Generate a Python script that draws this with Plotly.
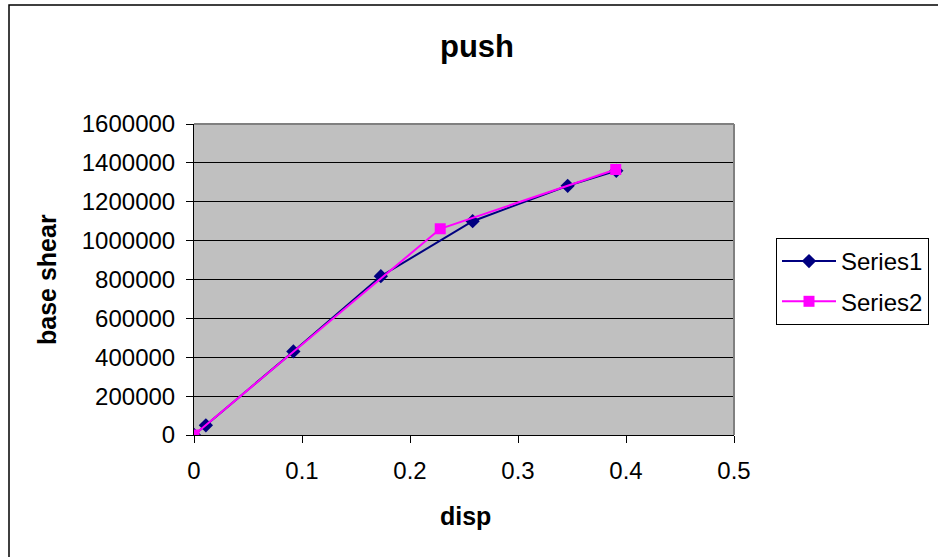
import plotly.graph_objects as go

# Pushover curve: displacement vs base shear
disp_s1 = [0.0, 0.011, 0.092, 0.173, 0.258, 0.346, 0.391]
shear_s1 = [0, 50000, 430000, 817000, 1100000, 1282000, 1359000]

disp_s2 = [0.0, 0.228, 0.3905]
shear_s2 = [0, 1061000, 1366000]

x_ticks = [0, 0.1, 0.2, 0.3, 0.4, 0.5]
y_ticks = [0, 200000, 400000, 600000, 800000, 1000000, 1200000, 1400000, 1600000]

FONT = "Liberation Sans, Arial, sans-serif"
W, H = 938, 557
L, R, T, B = 194, 204, 124, 122
PW, PH = W - L - R, H - T - B


def px_x(p):
    return (p - L) / PW


def px_y(p):
    return (H - B - p) / PH


fig = go.Figure()
fig.add_trace(go.Scatter(
    x=disp_s1, y=shear_s1, name="Series1", mode="lines+markers",
    line=dict(color="#000080", width=2),
    marker=dict(symbol="diamond", size=11, color="#000080"),
    legendgroup="s1",
))
fig.add_trace(go.Scatter(
    x=disp_s2, y=shear_s2, name="Series2", mode="lines+markers",
    line=dict(color="#FF00FF", width=2),
    marker=dict(symbol="square", size=11, color="#FF00FF"),
    legendgroup="s2",
))

fig.update_layout(
    width=W, height=H,
    margin=dict(l=L, r=R, t=T, b=B, pad=0, autoexpand=False),
    paper_bgcolor="white",
    plot_bgcolor="#C0C0C0",
    font=dict(family=FONT, size=24, color="black"),
    showlegend=True,
    legend=dict(
        xref="container", yref="container",
        x=776 / W, y=1 - 238 / H, xanchor="left", yanchor="top",
        bordercolor="black", borderwidth=1, bgcolor="white",
        font=dict(family=FONT, size=24, color="black"),
        tracegroupgap=6, itemwidth=54,
    ),
    xaxis=dict(
        range=[0, 0.5], tickvals=x_ticks, ticktext=[f"{v:g}" for v in x_ticks],
        showgrid=False, zeroline=False, automargin=False,
        showline=True, linecolor="black", linewidth=1,
        ticks="outside", ticklen=7, tickcolor="black",
        ticklabelstandoff=7,
    ),
    yaxis=dict(
        range=[0, 1600000], tickvals=y_ticks, ticktext=[str(v) for v in y_ticks],
        showgrid=True, gridcolor="black", gridwidth=1, zeroline=False,
        automargin=False,
        showline=True, linecolor="black", linewidth=1,
        ticks="outside", ticklen=7, tickcolor="black",
        ticklabelstandoff=6,
    ),
    shapes=[
        # plot area top/right border
        dict(type="line", xref="paper", yref="paper", x0=0, x1=1, y0=1, y1=1,
             line=dict(color="#808080", width=2)),
        dict(type="line", xref="paper", yref="paper", x0=1, x1=1, y0=0, y1=1,
             line=dict(color="#808080", width=2)),
        # chart area frame
        dict(type="rect", xref="paper", yref="paper",
             x0=px_x(9), x1=px_x(W + 20), y0=px_y(H + 20), y1=px_y(5),
             line=dict(color="black", width=1.5), fillcolor="rgba(0,0,0,0)"),
    ],
    annotations=[
        dict(text="<b>push</b>", xref="paper", yref="paper",
             x=px_x(477), y=px_y(46), xanchor="center", yanchor="middle",
             showarrow=False, font=dict(family=FONT, size=31, color="black")),
        dict(text="<b>disp</b>", xref="paper", yref="paper",
             x=px_x(465), y=px_y(516), xanchor="center", yanchor="middle",
             showarrow=False, font=dict(family=FONT, size=25, color="black")),
        dict(text="<b>base shear</b>", xref="paper", yref="paper",
             x=px_x(47), y=px_y(280), xanchor="center", yanchor="middle",
             textangle=-90, showarrow=False,
             font=dict(family=FONT, size=25, color="black")),
    ],
)

fig.write_html("out.html")
